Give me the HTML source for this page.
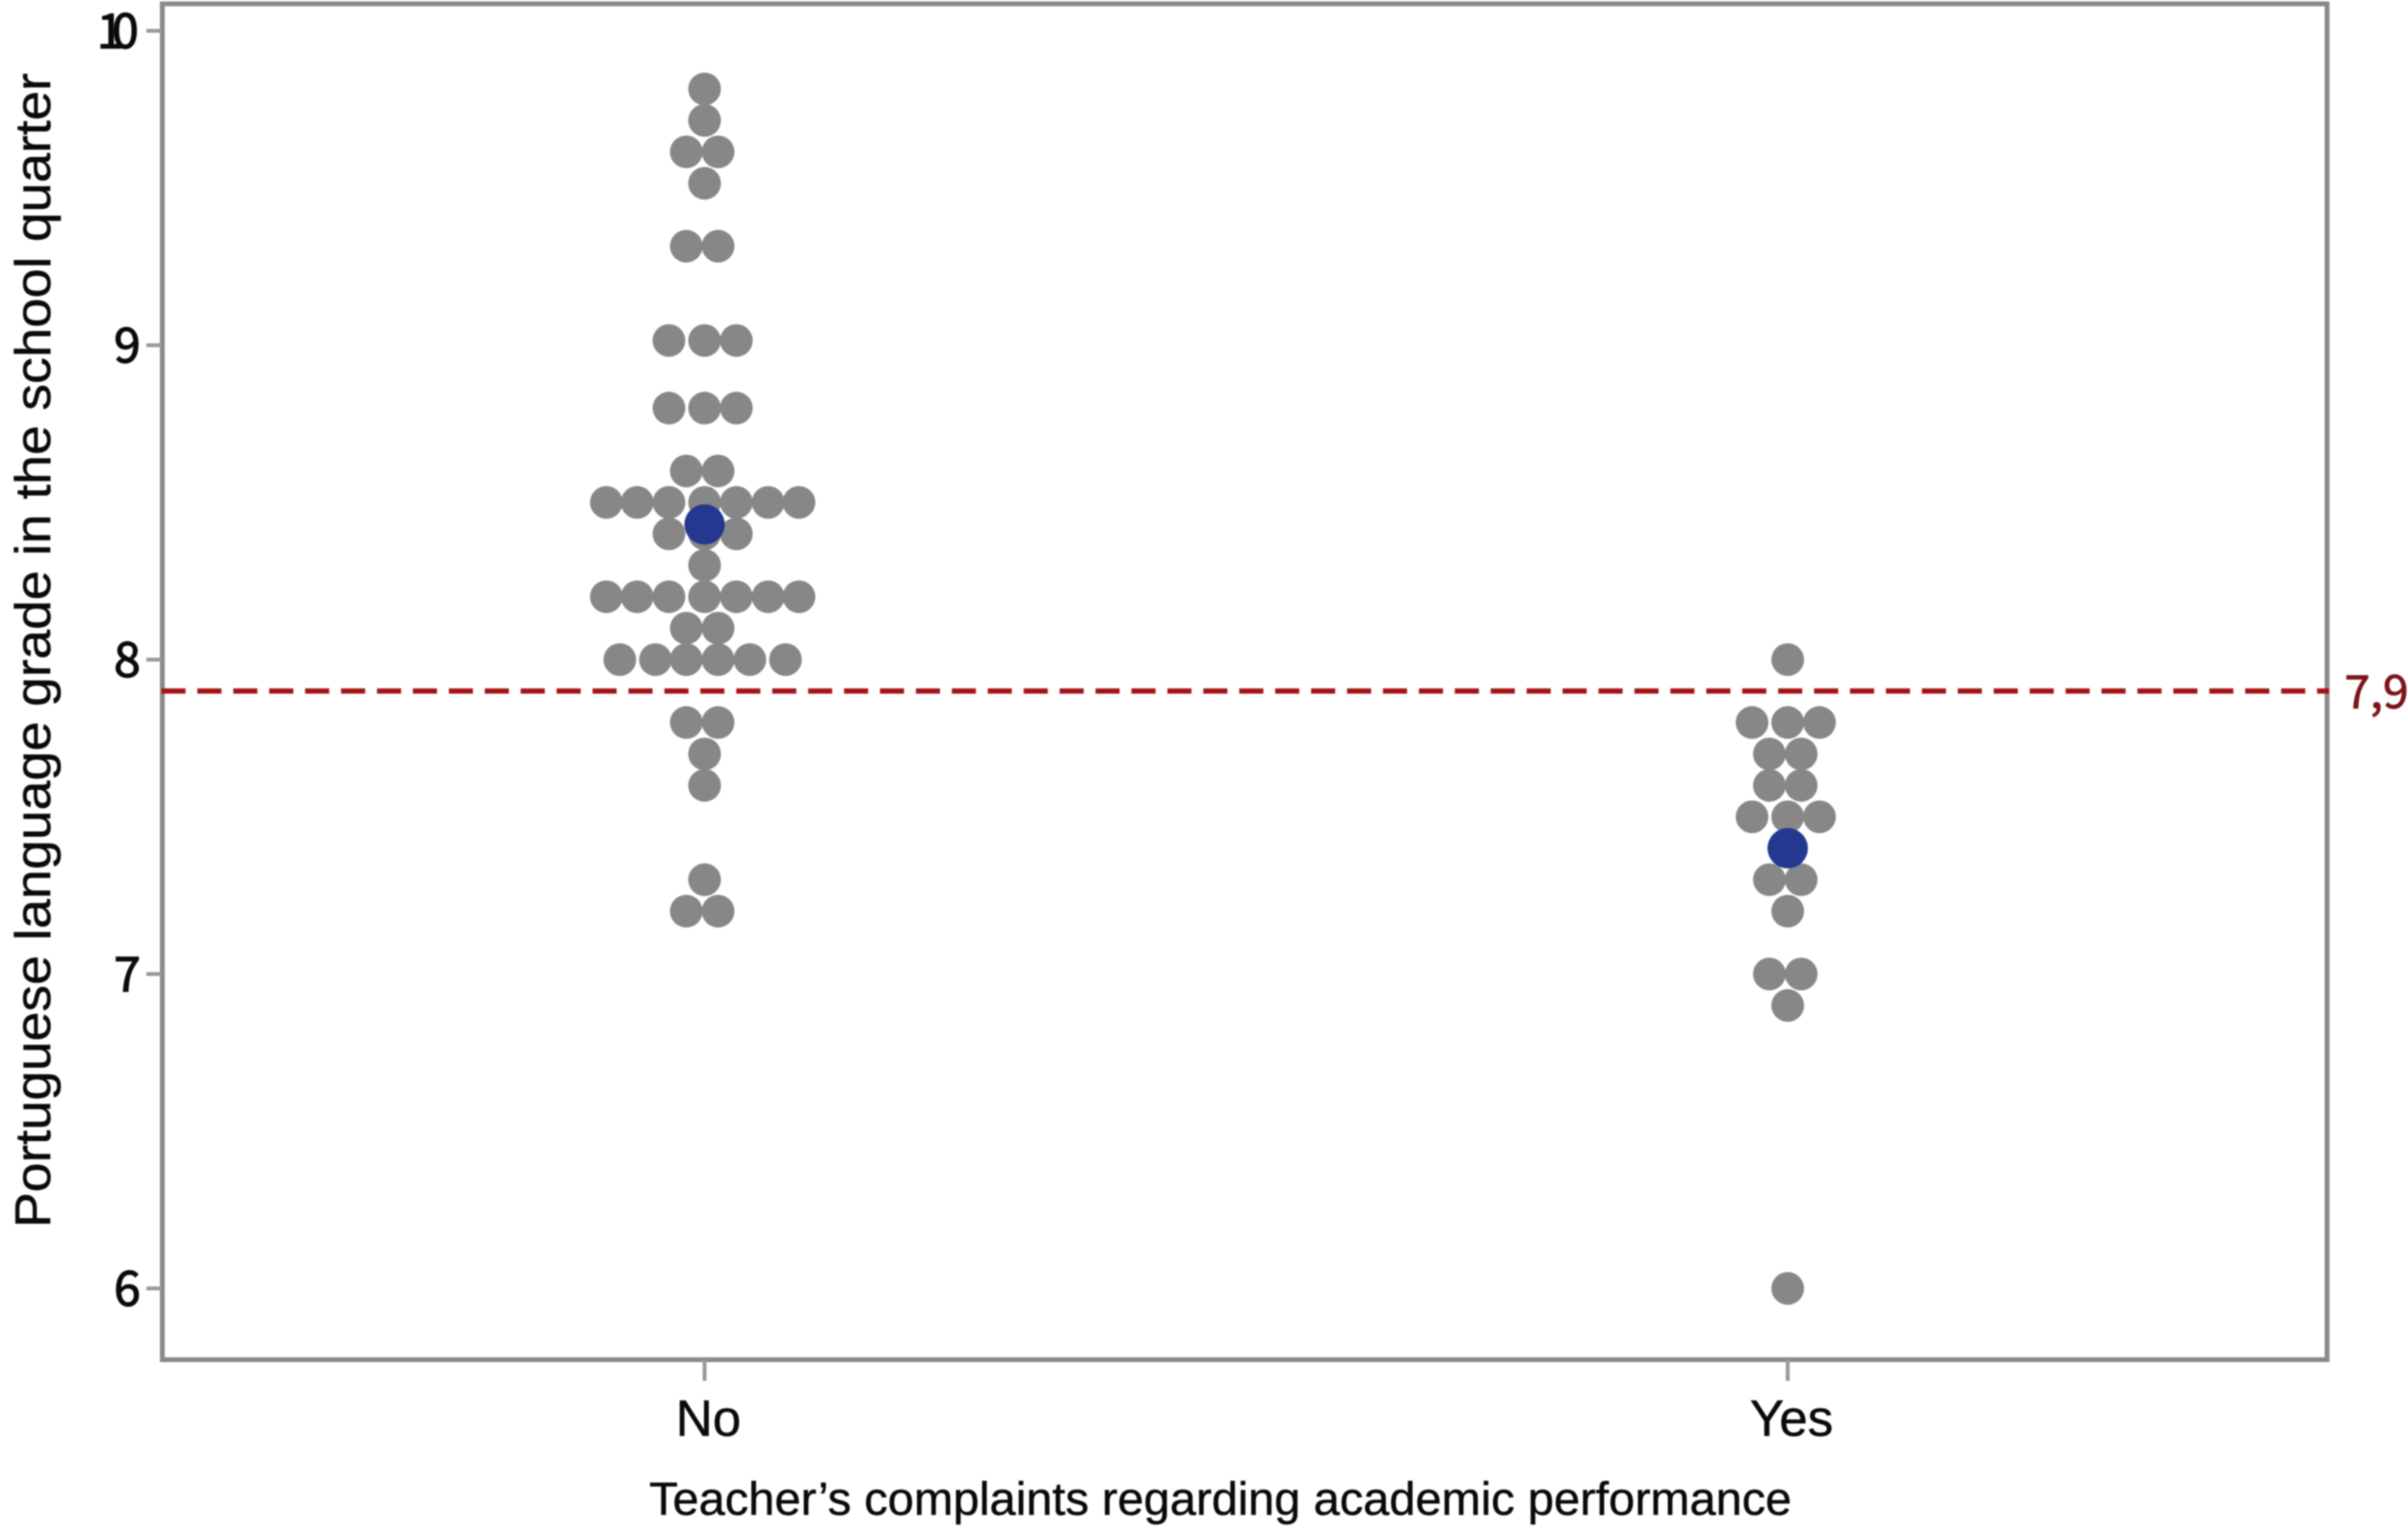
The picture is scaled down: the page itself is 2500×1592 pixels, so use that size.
<!DOCTYPE html>
<html lang="en">
<head>
<meta charset="utf-8">
<title>Portuguese language grade by teacher's complaints</title>
<style>
html,body{margin:0;padding:0;background:#fff;}
svg{display:block;filter:blur(0.7px);}
.sans{font-family:"Liberation Sans",sans-serif;fill:#0a0a0a;stroke:#0a0a0a;stroke-width:0.5;}
.num{font-family:"Noto Sans CJK JP","Liberation Sans",sans-serif;}
</style>
</head>
<body>
<svg id="chart" xmlns="http://www.w3.org/2000/svg" width="2500" height="1592" viewBox="0 0 2500 1592">
  <rect x="0" y="0" width="2500" height="1592" fill="#fff"/>
  <g id="marks"></g>
  <g id="axes"></g>
  <text class="sans" x="674" y="1573" font-size="48" textLength="1186" lengthAdjust="spacingAndGlyphs">Teacher’s complaints regarding academic performance</text>
  <text class="sans" transform="translate(52,1275) rotate(-90)" font-size="52" textLength="1199" lengthAdjust="spacingAndGlyphs">Portuguese language grade in the school quarter</text>
</svg>
<script>
const categories = ['No', 'Yes'];
const noGrades = [9.815, 9.715, 9.615, 9.615, 9.515, 9.315, 9.315, 9.015, 9.015, 9.015, 8.8, 8.8, 8.8, 8.6, 8.6,
  8.5, 8.5, 8.5, 8.5, 8.5, 8.5, 8.5, 8.4, 8.4, 8.4, 8.3,
  8.2, 8.2, 8.2, 8.2, 8.2, 8.2, 8.2, 8.1, 8.1, 8.0, 8.0, 8.0, 8.0, 8.0, 8.0,
  7.8, 7.8, 7.7, 7.6, 7.3, 7.2, 7.2];
const yesGrades = [8.0, 7.8, 7.8, 7.8, 7.7, 7.7, 7.6, 7.6, 7.5, 7.5, 7.5, 7.4,
  7.3, 7.3, 7.2, 7.0, 7.0, 6.9, 6.0];
const groupMeans = [8.43, 7.4];
const yTicks = [6, 7, 8, 9, 10];
const referenceValue = 7.9;
const referenceLabel = '7,9';

const NS = 'http://www.w3.org/2000/svg';
const plot = { left: 168.5, right: 2416, top: 4, bottom: 1412 };
const catX = { No: 731.5, Yes: 1856 };
function xScale(cat) { return catX[cat]; }
function yScale(v) { return 32 + (10 - v) * 326.5; }
/* horizontal packing of tied dots, by number of ties */
const packing = {
  1: [0], 2: [-19, 14], 3: [-37, 0, 33], 4: [-51, -19, 14, 47], 5: [-70, -37, 0, 33, 66],
  6: [-88, -51, -19, 14, 47, 84], 7: [-102, -70, -37, 0, 33, 66, 98]
};
function make(tag, attrs, parent) {
  const el = document.createElementNS(NS, tag);
  for (const k in attrs) el.setAttribute(k, attrs[k]);
  parent.appendChild(el);
  return el;
}
const marks = document.getElementById('marks');
const axes = document.getElementById('axes');

function drawGroup(cat, values) {
  const counts = {};
  values.forEach(function (v) { counts[v] = (counts[v] || 0) + 1; });
  const seen = {};
  values.forEach(function (v) {
    const i = seen[v] || 0;
    seen[v] = i + 1;
    const offs = packing[counts[v]] || packing[7];
    const c = make('circle', { cx: xScale(cat) + offs[i], cy: yScale(v), r: 17, fill: '#878787' }, marks);
    
    
  });
}
drawGroup(categories[0], noGrades);
drawGroup(categories[1], yesGrades);

categories.forEach(function (cat, i) {
  const c = make('circle', { cx: xScale(cat), cy: yScale(groupMeans[i]), r: 21, fill: '#24388f' }, marks);
  
  
});

const frame = make('rect', { x: plot.left, y: plot.top, width: plot.right - plot.left, height: plot.bottom - plot.top, fill: 'none', stroke: '#8a8a8a', 'stroke-width': 5 }, axes);



yTicks.forEach(function (t) {
  const y = yScale(t);
  const tick = make('line', { x1: 152, x2: plot.left, y1: y, y2: y, stroke: '#999', 'stroke-width': 4 }, axes);
  
  
  const wide = t >= 10;
  const label = make('text', { x: wide ? 132 : 146, y: y + 18, 'text-anchor': 'end', 'font-size': 50, fill: '#0a0a0a', class: 'num', stroke: '#0a0a0a', 'stroke-width': 1.2 }, axes);
  if (wide) label.setAttribute('letter-spacing', '-12');
  label.textContent = String(t);
  
  
});

categories.forEach(function (cat) {
  const x = xScale(cat);
  const tick = make('line', { x1: x, x2: x, y1: plot.bottom, y2: plot.bottom + 22, stroke: '#999', 'stroke-width': 4 }, axes);
  
  
  const label = make('text', { x: x + 4, y: 1491, 'text-anchor': 'middle', 'font-size': 53, class: 'sans' }, axes);
  label.textContent = cat;
  
  
});

const refY = yScale(referenceValue);
const refLine = make('line', { x1: 167.6, x2: plot.right + 2, y1: refY, y2: refY, stroke: '#a51417', 'stroke-width': 5.5, 'stroke-dasharray': '25 12.3' }, axes);


const refText = make('text', { x: 2434, y: refY + 18, 'font-size': 48, fill: '#7a1418', class: 'num', stroke: '#7a1418', 'stroke-width': 0.8 }, axes);
refText.textContent = referenceLabel;


</script>
</body>
</html>
